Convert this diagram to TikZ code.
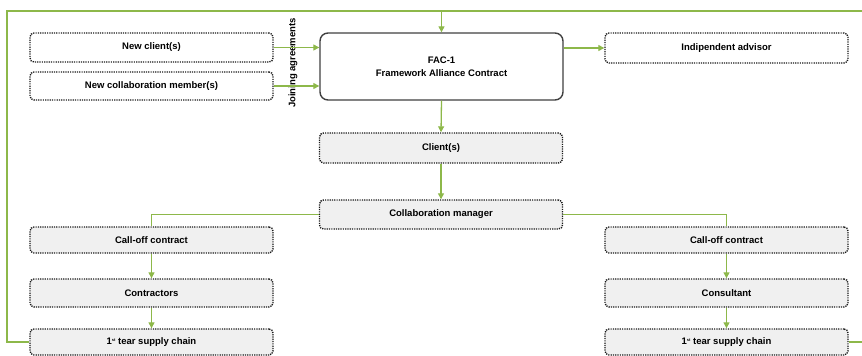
\documentclass[tikz,border=0pt]{standalone}
\usepackage{fontspec}
\setmainfont{Liberation Sans}
\usetikzlibrary{arrows.meta}

\definecolor{linkgreen}{HTML}{8DB84A}

\begin{document}
\begin{tikzpicture}[x=1pt,y=-1pt,
  box/.style={draw=black!90, line width=1.4pt, dash pattern=on 1.2pt off 1.1pt,
    rounded corners=4pt, minimum width=243pt, minimum height=28pt, inner sep=0pt,
    font=\bfseries\fontsize{9.5}{10}\selectfont},
  greybox/.style={box, fill=black!6},
  link/.style={draw=linkgreen, line width=1.3pt, -{Triangle[length=6pt,width=6pt]}},
  line/.style={draw=linkgreen, line width=1.3pt}]

\useasboundingbox (0,0) rectangle (862,356);

\coordinate (TL) at (7,11);
\coordinate (TR) at (862,11);
\coordinate (BR) at (862,342);

% top row
\node [box, minimum height=29pt] (newclient) at (151.5,47.5) {New client(s)};
\node [box] (newmember) at (151.5,86) {New collaboration member(s)};
\node [draw=black!75, line width=1.4pt, rounded corners=8pt, fill=white,
  minimum width=243pt, minimum height=67pt, align=center,
  font=\bfseries\fontsize{9.5}{13}\selectfont] (fac) at (441.5,66.5)
  {FAC-1\\Framework Alliance Contract};
\node [box, minimum height=30pt] (advisor) at (726.5,48) {Indipendent advisor};
\node [rotate=90, font=\bfseries\fontsize{9.5}{10}\selectfont, inner sep=0pt] (joining) at (293,63) {Joining agreements};

% middle
\node [greybox, minimum height=30pt] (client) at (441,148) {Client(s)};
\node [greybox, minimum height=29pt] (manager) at (441,214.5) {Collaboration manager};

% left branch
\node [greybox, minimum height=26pt] (calloffL) at (151.5,240) {Call-off contract};
\node [greybox] (contractors) at (151.5,293) {Contractors};
\node [greybox, minimum height=26pt] (supplyL) at (151.5,342) {1{\fontsize{4}{4}\selectfont\raisebox{3pt}{st}} tear supply chain};

% right branch
\node [greybox, minimum height=26pt] (calloffR) at (726.5,240) {Call-off contract};
\node [greybox] (consultant) at (726.5,293) {Consultant};
\node [greybox, minimum height=26pt] (supplyR) at (726.5,342) {1{\fontsize{4}{4}\selectfont\raisebox{3pt}{st}} tear supply chain};

% connectors
\draw [line] (supplyL.west) -- (supplyL.west -| TL) -- (TL) -- (TR);
\draw [line] (supplyR.east) -- (BR);
\draw [link] (fac.north |- TL) -- (fac.north);
\draw [link] (newclient.east) -- (newclient.east -| fac.west);
\draw [link] (newmember.east) -- (newmember.east -| fac.west);
\draw [link] (fac.east |- advisor) -- (advisor.west);
\draw [link] (fac.south) -- (client.north);
\draw [link] (client.south) -- (manager.north);
\draw [line] (manager.west) -| (calloffL.north);
\draw [line] (manager.east) -| (calloffR.north);
\draw [link] (calloffL.south) -- (contractors.north);
\draw [link] (contractors.south) -- (supplyL.north);
\draw [link] (calloffR.south) -- (consultant.north);
\draw [link] (consultant.south) -- (supplyR.north);

\end{tikzpicture}
\end{document}
